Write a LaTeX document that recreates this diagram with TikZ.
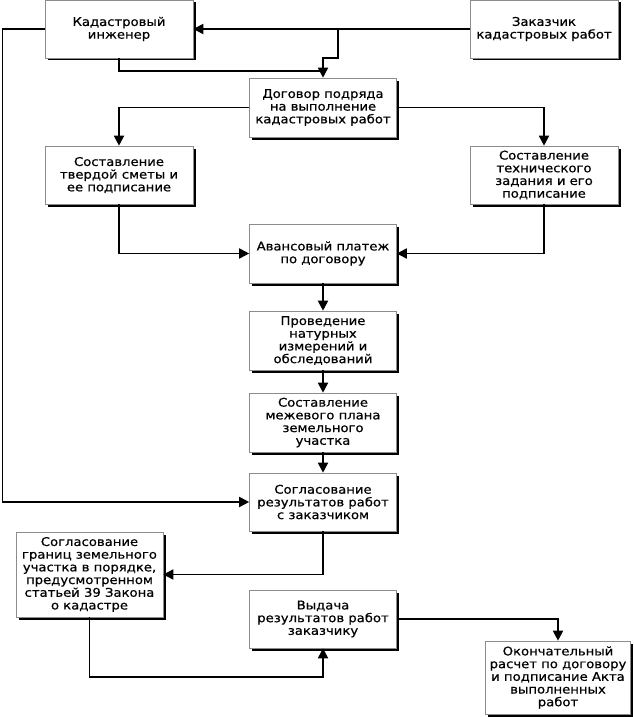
\documentclass[tikz,border=0pt]{standalone}
\usepackage{fontspec}
\newfontfamily\boxfont{DejaVu Sans}[FakeStretch=1.1,FakeBold=0.6]
\usetikzlibrary{arrows.meta,shadows}
\begin{document}
\begin{tikzpicture}[x=1pt,y=-1pt,
  box/.style={draw=black!45, line width=0.6pt, fill=white, align=center, inner sep=0pt,
    font={\boxfont\fontsize{12}{12.7}\selectfont},
    drop shadow={shadow xshift=2.5pt,shadow yshift=-2.5pt,fill=black,opacity=1}},
  wbox/.style={box, minimum width=148pt},
  cbox/.style={box, minimum width=147pt},
  conn/.style={line width=1.8pt, line join=miter},
  arr/.style={-{Triangle[length=10pt,width=10pt]}}]
\useasboundingbox (0,0) rectangle (634,717);

\node[wbox, minimum height=58pt] (ki) at (119,29) {Кадастровый\\инженер};
\node[wbox, minimum height=58pt] (zk) at (544,29) {Заказчик\\кадастровых работ};
\node[cbox, minimum height=59pt] (dg) at (323,107.5) {Договор подряда\\на выполнение\\кадастровых работ};
\node[wbox, minimum height=58pt] (tv) at (119,175) {Составление\\твердой сметы и\\ее подписание};
\node[wbox, minimum height=58pt] (tz) at (544,175) {Составление\\технического\\задания и его\\подписание};
\node[cbox, minimum height=59pt] (av) at (323,253.5) {Авансовый платеж\\по договору};
\node[cbox, minimum height=59pt] (pr) at (323,340.5) {Проведение\\натурных\\измерений и\\обследований};
\node[cbox, minimum height=59pt] (mp) at (323,422.5) {Составление\\межевого плана\\земельного\\участка};
\node[cbox, minimum height=58pt] (sr) at (323,502) {Согласование\\результатов работ\\с заказчиком};
\node[cbox, minimum height=85pt] (sg) at (89.5,574.5) {Согласование\\границ земельного\\участка в порядке,\\предусмотренном\\статьей 39 Закона\\о кадастре};
\node[cbox, minimum height=58pt] (vd) at (323,619) {Выдача\\результатов работ\\заказчику};
\node[box, minimum width=145pt, minimum height=73pt] (ok) at (558,677.5) {Окончательный\\расчет по договору\\и подписание Акта\\выполненных\\работ};

\coordinate (b1) at (338,29);
\coordinate (j1) at (323,58);
\coordinate (j2) at (323,71);
\coordinate (l1) at (2.5,29);
\coordinate (c1) at (89.5,677);

\draw[conn,arr] (zk.west) -- (ki.east);
\draw[conn,arr] (b1) |- (j1) -- (dg.north);
\draw[conn] (ki.south) |- (j2);
\draw[conn,arr] (ki.west) -- (l1) |- (sr.west);
\draw[conn,arr] (dg.west) -| (tv.north);
\draw[conn,arr] (dg.east) -| (tz.north);
\draw[conn,arr] (tv.south) |- (av.west);
\draw[conn,arr] (tz.south) |- (av.east);
\draw[conn,arr] (av.south) -- (pr.north);
\draw[conn,arr] (pr.south) -- (mp.north);
\draw[conn,arr] (mp.south) -- (sr.north);
\draw[conn,arr] (sr.south) |- (sg.east);
\draw[conn,arr] (sg.south) -- (c1) -| (vd.south);
\draw[conn,arr] (vd.east) -| (ok.north);
\end{tikzpicture}
\end{document}
